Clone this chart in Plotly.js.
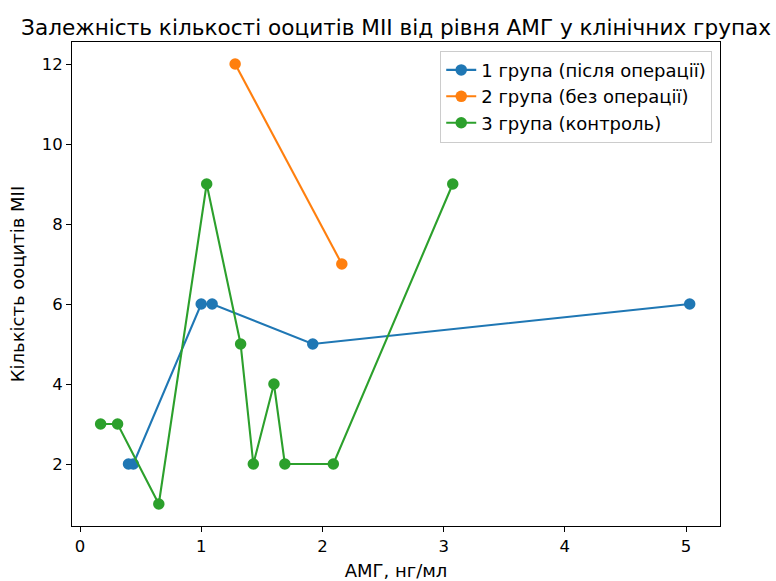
<!DOCTYPE html>
<html>
<head>
<meta charset="utf-8">
<script src="https://cdn.plot.ly/plotly-3.0.1.min.js"></script>
<style>html,body{margin:0;padding:0;background:#fff;}#chart{width:776px;height:581px;}</style>
</head>
<body>
<div id="chart"></div>
<script>
const group1Names = "1 група (після операції)";
const group2Names = "2 група (без операції)";
const group3Names = "3 група (контроль)";

const g1_amg = [0.40, 0.44, 1.00, 1.09, 1.92, 5.03];
const g1_mii = [2, 2, 6, 6, 5, 6];

const g2_amg = [1.28, 2.16];
const g2_mii = [12, 7];

const g3_amg = [0.17, 0.31, 0.65, 1.045, 1.325, 1.43, 1.60, 1.69, 2.09, 3.075];
const g3_mii = [3, 3, 1, 9, 5, 2, 4, 2, 2, 9];

const xTicks = [0, 1, 2, 3, 4, 5];
const yTicks = [2, 4, 6, 8, 10, 12];

const FONT = "DejaVu Sans, sans-serif";
const FS = 18;
const TFS = 16.5;
function tr(x, y, name, color) {
  return {x: x, y: y, name: name, type: 'scatter', mode: 'lines+markers',
    line: {color: color, width: 2.1}, marker: {color: color, size: 11.5}};
}
const data = [
  tr(g1_amg, g1_mii, group1Names, '#1f77b4'),
  tr(g2_amg, g2_mii, group2Names, '#ff7f0e'),
  tr(g3_amg, g3_mii, group3Names, '#2ca02c')
];
const axisCommon = {
  showgrid: false, zeroline: false, showline: true, mirror: true,
  linecolor: '#000', linewidth: 1, ticks: 'outside', ticklen: 5, tickwidth: 1,
  tickcolor: '#000', tickfont: {family: FONT, size: TFS, color: '#000'}
};
const layout = {
  width: 776, height: 581,
  margin: {l: 72, r: 56, t: 42, b: 55},
  paper_bgcolor: '#fff', plot_bgcolor: '#fff',
  title: {text: 'Залежність кількості ооцитів МІІ від рівня АМГ у клінічних групах',
    font: {family: FONT, size: 21.6, color: '#000'}, x: 0.5104, xanchor: 'center', y: 0.953, yanchor: 'middle'},
  xaxis: Object.assign({}, axisCommon, {
    range: [-0.066, 5.28], tickvals: xTicks, ticktext: xTicks.map(String),
    title: {text: 'АМГ, нг/мл', font: {family: FONT, size: FS, color: '#000'}, standoff: 9}
  }),
  yaxis: Object.assign({}, axisCommon, {
    range: [0.45, 12.55], tickvals: yTicks, ticktext: yTicks.map(String),
    title: {text: 'Кількість ооцитів МІІ', font: {family: FONT, size: FS, color: '#000'}, standoff: 12}
  }),
  showlegend: true,
  legend: {x: 0.988, xanchor: 'right', y: 0.982, yanchor: 'top',
    bgcolor: 'rgba(255,255,255,0.8)', bordercolor: '#cccccc', borderwidth: 1,
    font: {family: FONT, size: FS, color: '#000'}, tracegroupgap: 0}
};
Plotly.newPlot('chart', data, layout, {displayModeBar: false, staticPlot: true});
</script>
</body>
</html>
